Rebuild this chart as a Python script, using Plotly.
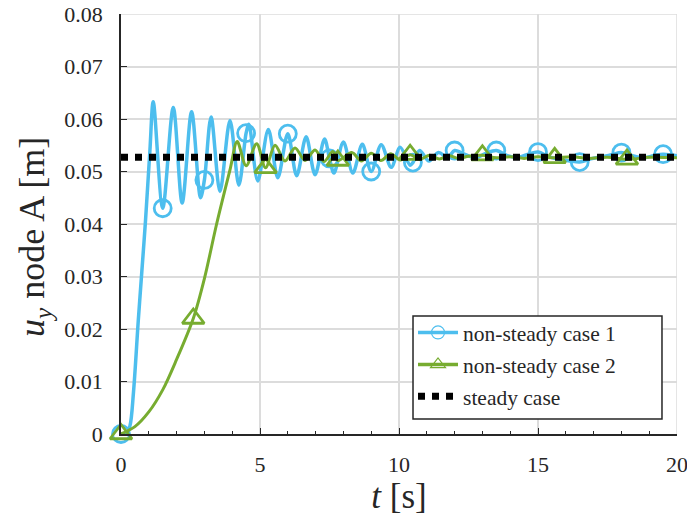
import plotly.graph_objects as go

# Vertical displacement u_y of node A over time t
t_case1 = [0, 0.2, 0.32, 0.45, 0.62, 0.75, 0.88, 1.04, 1.16,
           1.5, 1.88, 2.2, 2.54, 2.86, 3.0, 3.24, 3.56, 3.92, 4.24, 4.5,
           4.6, 4.92, 5.3, 5.64, 6.0, 6.32, 6.66, 6.98, 7.32, 7.5, 7.66,
           8.0, 8.34, 8.68, 9.0, 9.36, 9.72, 10.04, 10.4, 10.5, 10.74,
           11.08, 11.42, 11.76, 12.0, 12.4, 12.75, 13.1, 13.5, 13.9, 14.3,
           14.65, 15.0, 15.4, 15.8, 16.15, 16.5, 16.9, 17.3, 17.65, 18.0,
           18.4, 18.8, 19.15, 19.5, 20.0]
u_case1 = [0.0, 0.0002, 0.0015, 0.0080, 0.0215, 0.0310, 0.0405, 0.0540, 0.0633,
           0.0430, 0.0622, 0.0440, 0.0614, 0.0450, 0.0484, 0.0604, 0.0462, 0.0597, 0.0474, 0.0573,
           0.0590, 0.0482, 0.0580, 0.0488, 0.0572, 0.0492, 0.0566, 0.0494, 0.0562, 0.0525, 0.0497,
           0.0556, 0.0497, 0.0552, 0.0500, 0.0551, 0.0508, 0.0546, 0.0512, 0.0517, 0.0540,
           0.0520, 0.0536, 0.0527, 0.0540, 0.0532, 0.0526, 0.0534, 0.0540, 0.0530, 0.0527,
           0.0533, 0.0537, 0.0528, 0.0523, 0.0520, 0.0518, 0.0524, 0.0528, 0.0532, 0.0536,
           0.0530, 0.0526, 0.0530, 0.0533, 0.0530]
t_case1_marks = [0, 1.5, 3.0, 4.5, 6.0, 7.5, 9.0, 10.5, 12.0, 13.5, 15.0, 16.5, 18.0, 19.5]

t_case2 = [0, 0.5, 1.0, 1.5, 2.0, 2.6, 3.0, 3.44, 3.92, 4.18, 4.5, 4.88,
           5.2, 5.54, 5.9, 6.26, 6.62, 6.98, 7.3, 7.62, 7.8, 8.3, 8.65, 9.0,
           9.35, 9.7, 10.05, 10.4, 10.75, 11.1, 11.45, 11.8, 12.15, 12.5, 13.0,
           13.5, 14.0, 14.5, 15.0, 15.6, 16.2, 16.8, 17.5, 18.2, 19.0, 20.0]
u_case2 = [0.0, 0.0014, 0.0042, 0.0084, 0.0142, 0.0220, 0.0296, 0.0400, 0.0503, 0.0557, 0.0511, 0.0553,
           0.0507, 0.0550, 0.0520, 0.0545, 0.0521, 0.0541, 0.0519, 0.0538, 0.0521, 0.0536, 0.0520, 0.0535,
           0.0521, 0.0534, 0.0522, 0.0532, 0.0523, 0.0531, 0.0524, 0.0530, 0.0525, 0.0529, 0.0531,
           0.0526, 0.0528, 0.0525, 0.0528, 0.0526, 0.0528, 0.0525, 0.0527, 0.0523, 0.0527, 0.0526]
t_case2_marks = [0, 2.6, 5.2, 7.8, 10.4, 13.0, 15.6, 18.2]

t_steady = [0, 20]
u_steady = [0.0527, 0.0527]

x_ticks = [0, 5, 10, 15, 20]
x_tick_labels = ["0", "5", "10", "15", "20"]
y_ticks = [0, 0.01, 0.02, 0.03, 0.04, 0.05, 0.06, 0.07, 0.08]
y_tick_labels = ["0", "0.01", "0.02", "0.03", "0.04", "0.05", "0.06", "0.07", "0.08"]

u_case1_marks = [u_case1[t_case1.index(t)] for t in t_case1_marks]
u_case2_marks = [u_case2[t_case2.index(t)] for t in t_case2_marks]

BLUE = "#4DBEEE"
GREEN = "#77AC30"
INK = "#262626"
GRID = "#dcdcdc"
FONT = "Liberation Serif"

fig = go.Figure()

# case 1: curve and circle markers
fig.add_trace(go.Scatter(x=t_case1, y=u_case1, mode="lines", line=dict(color=BLUE, width=3.5, shape="spline", smoothing=0.9),
                         showlegend=False, hoverinfo="skip"))
fig.add_trace(go.Scatter(x=t_case1_marks, y=u_case1_marks, mode="markers", cliponaxis=False,
                         marker=dict(symbol="circle-open", size=17, color=BLUE, line=dict(width=2.8, color=BLUE)),
                         showlegend=False))
# case 2: curve and triangle markers
fig.add_trace(go.Scatter(x=t_case2, y=u_case2, mode="lines", line=dict(color=GREEN, width=3, shape="spline", smoothing=0.9),
                         showlegend=False, hoverinfo="skip"))
fig.add_trace(go.Scatter(x=t_case2_marks, y=u_case2_marks, mode="markers", cliponaxis=False,
                         marker=dict(symbol="triangle-up-open", size=19, color=GREEN, line=dict(width=2.8, color=GREEN)),
                         showlegend=False))
# steady solution
fig.add_trace(go.Scatter(x=t_steady, y=u_steady, mode="lines", line=dict(color="black", width=7, dash="7px,7px"),
                         showlegend=False, cliponaxis=False))

# legend entries
fig.add_trace(go.Scatter(x=[None], y=[None], mode="lines+markers", name="non-steady case 1", legendgroup="a",
                         line=dict(color=BLUE, width=3.5),
                         marker=dict(symbol="circle-open", size=13, color=BLUE, line=dict(width=1.2, color=BLUE))))
fig.add_trace(go.Scatter(x=[None], y=[None], mode="lines+markers", name="non-steady case 2", legendgroup="b",
                         line=dict(color=GREEN, width=3.5),
                         marker=dict(symbol="triangle-up-open", size=13, color=GREEN, line=dict(width=1.2, color=GREEN))))
fig.add_trace(go.Scatter(x=[None], y=[None], mode="lines", name="steady case", legendgroup="c",
                         line=dict(color="black", width=7, dash="7px,7px")))

# grid lines along the upper and right edges of the axes box
fig.add_shape(type="line", xref="x", yref="paper", x0=20, x1=20, y0=0, y1=1, line=dict(color=GRID, width=1.5), layer="below")
fig.add_shape(type="line", xref="paper", yref="y", x0=0, x1=1, y0=0.08, y1=0.08, line=dict(color=GRID, width=1.5), layer="below")
# legend box
fig.add_shape(type="rect", xref="paper", yref="paper", x0=0.5252, x1=0.973, y0=0.0357, y1=0.281,
              fillcolor="white", line=dict(color=INK, width=1.5), layer="above")

# y-axis label
fig.add_annotation(text="<i>u</i><sub><i>y</i></sub> node A [m]", textangle=-90, showarrow=False,
                   xref="paper", yref="paper", x=(34 - 121) / 556, y=(434 - 237) / 420,
                   xanchor="center", yanchor="middle", font=dict(family=FONT, size=36, color=INK))

fig.update_layout(
    width=687, height=523,
    margin=dict(l=121, r=10, t=14, b=89),
    paper_bgcolor="white", plot_bgcolor="white",
    font=dict(family=FONT, size=22, color=INK),
    legend=dict(x=0.5252, y=0.2905, xanchor="left", yanchor="top",
                bgcolor="rgba(0,0,0,0)", borderwidth=0,
                font=dict(family=FONT, size=21.5, color=INK),
                itemwidth=40, tracegroupgap=1, traceorder="grouped"),
    xaxis=dict(range=[0, 20], tickvals=x_ticks, ticktext=x_tick_labels, showgrid=True, gridcolor=GRID, gridwidth=1.5,
               showline=True, linecolor=INK, linewidth=1.5, zeroline=False, automargin=False,
               ticks="inside", ticklen=6, tickcolor=INK, tickwidth=1.2,
               minor=dict(dtick=1, ticks="inside", ticklen=3, tickcolor=INK, showgrid=False),
               ticklabelstandoff=10, ticklabeloverflow="allow",
               title=dict(text="<i>t</i> [s]", font=dict(family=FONT, size=35, color=INK), standoff=2)),
    yaxis=dict(range=[0, 0.08], tickvals=y_ticks, ticktext=y_tick_labels, showgrid=True, gridcolor=GRID, gridwidth=1.5,
               showline=True, linecolor=INK, linewidth=1.5, zeroline=False, automargin=False,
               ticks="inside", ticklen=6, tickcolor=INK, tickwidth=1.2,
               ticklabelstandoff=12),
)

fig.write_html("out.html")
